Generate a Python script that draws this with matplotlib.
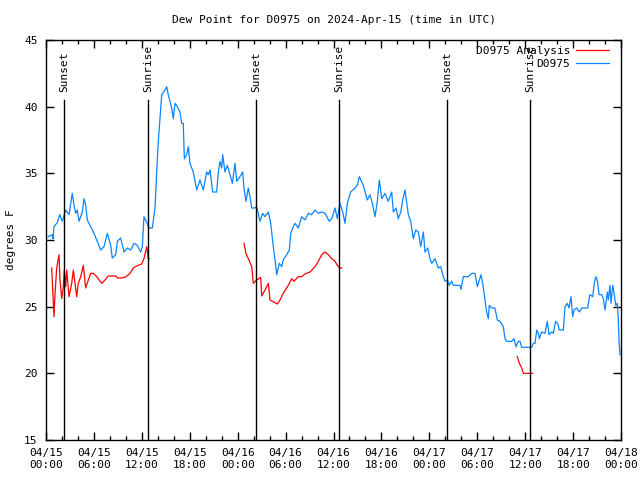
import numpy as np
import pandas as pd
import matplotlib
matplotlib.use("Agg")
import matplotlib.pyplot as plt
import matplotlib.dates as mdates

start = pd.Timestamp("2024-04-15 00:00")

# D0975 observations (hours since 04/15 00:00 UTC, dew point F)
obs_hours = [0.25, 0.79, 0.88, 1.0, 1.41, 1.72, 2.04, 2.47, 2.88, 3.29, 3.51, 3.72, 3.92, 4.13,
             4.55, 4.76, 4.97, 5.17, 5.6, 6.01, 6.42, 6.85, 7.26, 7.68, 8.1, 8.3, 8.73, 8.93,
             9.35, 9.77, 10.18, 10.61, 11.02, 11.43, 11.86, 12.06, 12.27, 12.48, 12.9, 13.31,
             13.65, 13.86, 14.06, 14.27, 14.49, 14.9, 15.11, 15.31, 15.74, 15.94, 16.15, 16.36,
             16.78, 16.99, 17.19, 17.32, 17.62, 17.82, 18.03, 18.44, 18.66, 18.87, 19.28, 19.7,
             20.12, 20.32, 20.54, 20.87, 21.37, 21.58, 21.79, 22.0, 22.13, 22.41, 22.7, 23.04,
             23.33, 23.67, 23.88, 24.29, 24.63, 24.79, 25.04, 25.33, 25.54, 25.76, 26.17, 26.38,
             26.8, 27.13, 27.42, 27.84, 28.14, 28.46, 28.68, 28.89, 29.21, 29.51, 29.71, 30.14,
             30.47, 30.64, 30.97, 31.18, 31.59, 32.02, 32.43, 32.85, 33.27, 33.68, 34.1, 34.52,
             34.94, 35.47, 35.78, 36.19, 36.48, 36.81, 37.15, 37.44, 37.73, 38.15, 38.69, 38.98,
             39.23, 39.73, 40.23, 40.57, 40.86, 41.2, 41.49, 41.74, 42.04, 42.45, 42.86, 43.29,
             43.49, 43.83, 44.11, 44.42, 44.67, 44.95, 45.17, 45.37, 45.67, 45.99, 46.29, 46.62,
             46.92, 47.25, 47.46, 47.8, 48.08, 48.3, 48.71, 49.12, 49.42, 49.75, 49.96, 50.25,
             50.5, 50.8, 51.0, 51.84, 51.97, 52.25, 52.88, 53.31, 53.72, 54.01, 54.26, 54.47,
             54.68, 54.97, 55.18, 55.38, 55.51, 55.81, 56.22, 56.51, 56.85, 57.26, 57.48, 57.69,
             58.31, 58.6, 58.85, 59.14, 59.35, 59.57, 60.82, 61.02, 61.23, 61.45, 61.65, 61.77,
             62.07, 62.48, 62.77, 62.99, 63.32, 63.52, 63.82, 64.07, 64.28, 64.78, 64.99, 65.28,
             65.49, 65.74, 65.95, 66.12, 66.45, 66.78, 67.08, 67.83, 68.0, 68.12, 68.46, 68.62,
             68.83, 69.03, 69.25, 69.58, 69.79, 70.0, 70.29, 70.41, 70.62, 70.75, 70.96, 71.16,
             71.34, 71.54, 71.66, 71.75, 71.88]
obs_vals = [30.25, 30.4, 30.1, 31.0, 31.3, 31.9, 31.4, 32.25, 31.9, 33.5, 32.6, 32.0, 32.25, 31.4,
            32.1, 33.1, 32.6, 31.5, 31.0, 30.5, 29.9, 29.25, 29.5, 30.5, 29.6, 28.65, 28.9, 29.9,
            30.15, 29.1, 29.4, 29.25, 29.75, 29.6, 29.1, 29.5, 31.75, 31.5, 30.9, 30.9,
            32.4, 35.1, 37.4, 39.1, 40.9, 41.25, 41.5, 40.9, 39.9, 39.1, 40.25, 40.1,
            39.6, 38.75, 38.75, 36.1, 36.4, 37.0, 35.75, 35.1, 34.4, 33.75, 34.5, 33.75,
            35.1, 34.9, 35.25, 33.6, 33.6, 35.1, 35.9, 35.4, 36.4, 35.1, 35.6, 34.9,
            34.25, 35.75, 34.4, 34.75, 35.1, 33.9, 32.9, 33.9, 33.25, 32.4, 32.4, 32.5,
            31.4, 32.0, 31.75, 32.1, 31.25, 29.5, 28.5, 27.4, 28.25, 28.0, 28.5, 28.9,
            29.25, 30.5, 31.0, 31.25, 30.9, 31.75, 31.5, 32.0, 31.9, 32.25, 32.0, 32.1,
            32.0, 31.4, 31.6, 32.4, 31.6, 32.75, 32.1, 31.25, 32.75, 33.6, 33.9, 34.1,
            34.75, 34.1, 33.0, 33.4, 32.75, 31.75, 32.9, 34.5, 33.1, 33.5, 32.9, 33.6,
            32.1, 32.4, 31.6, 32.1, 33.0, 33.75, 32.75, 31.9, 31.4, 30.1, 30.75, 30.6,
            29.5, 30.6, 29.1, 29.4, 28.6, 28.25, 28.6, 27.9, 28.0, 27.25, 26.9, 27.0,
            26.6, 26.9, 26.6, 26.6, 26.3, 27.25, 27.25, 27.5, 27.5, 26.5, 27.0, 27.4,
            26.75, 25.5, 24.6, 24.1, 25.1, 24.9, 24.9, 24.0, 23.9, 23.5, 22.6, 22.4,
            22.4, 22.6, 22.0, 22.4, 22.4, 21.95, 21.95, 22.25, 22.25, 23.25, 23.0, 22.6,
            23.1, 23.0, 23.9, 22.9, 23.1, 23.0, 23.9, 23.75, 23.25, 23.25, 25.0, 25.25,
            24.9, 25.75, 24.25, 24.75, 24.9, 24.6, 24.9, 24.9, 25.6, 25.9, 25.75, 26.6,
            27.25, 27.0, 25.9, 25.9, 25.6, 24.75, 26.1, 25.5, 26.6, 25.25, 26.6, 25.9,
            25.1, 25.25, 24.1, 22.4, 21.4]

# D0975 analysis (NaN marks gaps)
ana_hours = [0.71, 1.0, 1.13, 1.34, 1.63, 1.75, 1.97, 2.17, 2.29, 2.47, 2.59, 2.88, 3.22, 3.42,
             3.84, 4.04, 4.35, 4.67, 4.97, 5.3, 5.6, 5.92, 6.35, 6.97, 7.39, 7.8, 8.77, 8.93,
             9.48, 10.02, 10.52, 10.93, 11.36, 11.98, 12.27, 12.61, 12.81, 12.94,
             18.0,
             24.79, 25.04, 25.33, 25.76, 25.88, 25.96, 26.38, 26.88, 27.01, 27.42, 27.84, 28.05,
             28.68, 28.96, 29.3, 29.71, 30.34, 30.77, 31.05, 31.59, 32.02, 32.43, 33.06, 33.68,
             34.1, 34.52, 34.94, 35.35, 35.78, 36.19, 36.48, 36.81, 37.03,
             48.0,
             59.02, 59.27, 59.57, 59.77, 60.94]
ana_vals = [27.9, 24.25, 26.0, 27.9, 28.9, 27.0, 25.6, 26.5, 27.75, 26.5, 27.75, 25.75, 26.75, 27.75,
            25.75, 26.75, 27.25, 28.1, 26.4, 27.0, 27.5, 27.5, 27.25, 26.75, 27.0, 27.3, 27.3, 27.15,
            27.15, 27.25, 27.5, 27.9, 28.05, 28.2, 28.6, 29.5, 28.6, 28.6,
            np.nan,
            29.75, 29.0, 28.6, 28.0, 27.25, 26.75, 27.0, 27.2, 25.8, 26.25, 26.75, 25.5,
            25.3, 25.2, 25.5, 26.0, 26.6, 27.1, 26.9, 27.25, 27.25, 27.45, 27.6, 28.0,
            28.4, 28.9, 29.1, 28.9, 28.6, 28.4, 28.1, 27.9, 27.9,
            np.nan,
            21.25, 20.75, 20.4, 20.0, 20.0]

sun_hours = [2.3, 12.77, 26.3, 36.7, 50.22, 60.6]
sun_labels = ["Sunset", "Sunrise", "Sunset", "Sunrise", "Sunset", "Sunrise"]

obs_t = start + pd.to_timedelta(obs_hours, unit="h")
ana_t = start + pd.to_timedelta(ana_hours, unit="h")
sun_t = start + pd.to_timedelta(sun_hours, unit="h")

plt.rcParams["font.family"] = ["DejaVu Sans Mono"]
plt.rcParams["font.size"] = 8

fig = plt.figure(figsize=(6.4, 4.8), dpi=100)
ax = fig.add_axes([46 / 640, 40 / 480, 575 / 640, 400 / 480])

ax.plot(ana_t, ana_vals, color="#ff0000", lw=0.9, label="D0975 Analysis")
ax.plot(obs_t, obs_vals, color="#0a84ff", lw=0.9, label="D0975")

for t, lab in zip(sun_t, sun_labels):
    ax.plot([t, t], [15, 40.5], color="black", lw=1.0)
    ax.text(t, 41.1, lab, rotation=90, ha="center", va="bottom", fontsize=8)

ax.set_xlim(start, start + pd.Timedelta(hours=72))
ax.set_ylim(15, 45)
ax.set_yticks(range(15, 46, 5))
ax.xaxis.set_major_locator(mdates.HourLocator(byhour=[0, 6, 12, 18]))
ax.xaxis.set_minor_locator(mdates.HourLocator(interval=2))
ax.xaxis.set_major_formatter(mdates.DateFormatter("%m/%d\n%H:%M"))
ax.tick_params(which="both", direction="in", top=True, right=True, width=1, labelsize=8)
ax.tick_params(which="major", length=6, pad=6)
ax.tick_params(which="minor", length=3)
for s in ax.spines.values():
    s.set_linewidth(1.0)

ax.set_title("Dew Point for D0975 on 2024-Apr-15 (time in UTC)", fontsize=8, pad=12)
ax.set_ylabel("degrees F", fontsize=8, labelpad=6)
ax.legend(loc="upper right", bbox_to_anchor=(1 - 8 / 575, 1 - 2 / 400), frameon=False,
          markerfirst=False, fontsize=8, handlelength=3.0, handletextpad=0.5,
          borderaxespad=0.15, labelspacing=0.3, borderpad=0.2)

fig.savefig("out.png", dpi=100)
